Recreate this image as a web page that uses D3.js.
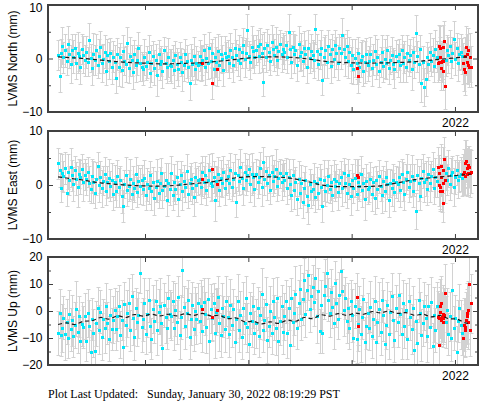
<!DOCTYPE html>
<html><head><meta charset="utf-8">
<script src="https://cdn.jsdelivr.net/npm/d3@7"></script>
<style>body{margin:0;background:#fff}svg{display:block}</style>
</head><body><svg id="c" width="481" height="404"></svg>
<script>
// Observation epochs (day number counted from 2018-01-01)
const days = [
58,63,67,72,77,83,88,92,97,103,108,112,117,122,128,133,137,142,147,153,
158,162,167,173,178,182,187,193,198,202,207,212,218,223,227,232,238,243,247,252,
258,263,267,272,278,283,287,292,298,303,307,312,318,322,327,333,338,342,347,353,
358,362,367,373,378,383,387,392,398,403,407,413,418,422,427,433,438,442,447,452,
458,463,467,472,478,483,488,492,497,503,508,512,517,523,527,532,538,543,547,552,
558,562,567,573,578,582,588,593,597,603,608,612,617,622,628,633,637,642,648,653,
658,662,667,672,678,683,687,693,698,702,707,713,718,722,727,733,738,742,747,752,
758,763,767,772,778,782,787,793,798,802,808,813,817,822,828,833,837,842,848,853,
858,862,868,873,877,882,888,893,897,902,908,913,917,923,928,932,937,943,948,952,
958,963,967,972,978,983,987,992,998,1003,1007,1012,1018,1023,1027,1032,1038,1042,1047,1052,
1058,1062,1067,1073,1078,1082,1087,1093,1097,1102,1108,1113,1117,1122,1128,1132,1137,1143,1147,1152,
1158,1162,1167,1172,1178,1183,1187,1192,1198,1203,1207,1212,1218,1222,1227,1233,1238,1242,1247,1253,
1258,1262,1267,1273,1278,1282,1287,1293,1297,1302,1308,1312,1317,1322,1328,1333,1337,1342,1348,1352,
1358,1362,1367,1372,1378,1383,1387,1392,1397,1428,1432,1437,1442,1447,1452,1457,1462,1467,1472,1477,
1482,1486];

const north = [
0.6,-3.2,1.0,2.4,0.2,1.5,-0.5,2.8,0.9,-1.0,1.6,0.3,2.0,-0.8,1.1,0.4,-1.5,1.8,0.7,-0.3,
1.2,-0.6,3.4,0.1,-1.8,0.9,-0.2,1.6,-1.2,0.5,2.2,-0.9,0.0,1.3,-2.4,0.6,-0.4,1.0,-1.6,0.3,
-0.7,-3.6,0.8,-1.5,0.2,-2.2,1.4,-0.5,-1.0,2.9,-1.8,0.4,-0.3,-2.6,0.9,-1.2,-0.2,1.9,-0.8,-1.5,
-2.0,0.3,-1.4,-0.6,1.2,-2.8,-0.9,0.5,-1.7,-0.2,-3.1,0.8,-1.1,-0.4,-2.3,1.5,-0.8,-1.6,0.2,-1.2,
-1.4,-0.3,-2.1,0.6,-1.0,-1.9,0.2,-0.7,-2.5,-1.2,0.9,-0.5,-1.6,-4.5,-0.2,-1.1,0.4,-2.0,-0.8,-1.3,
0.5,-1.0,-0.2,1.6,-1.5,0.1,-0.8,2.0,-0.4,1.1,-1.9,0.3,-0.6,1.4,-1.2,0.8,-0.1,-2.2,1.0,0.2,
0.4,-0.8,1.5,0.2,-1.3,2.0,0.7,-0.3,1.8,-0.9,1.2,2.6,0.0,1.0,5.3,0.5,-0.6,2.2,1.4,0.3,
1.5,2.3,0.4,2.8,1.0,-4.4,1.9,0.2,2.6,1.2,-0.5,3.0,1.7,0.6,2.1,-0.2,1.4,2.7,0.8,1.8,
1.2,2.5,0.3,5.0,1.8,-0.6,2.2,0.9,1.6,-1.2,2.8,0.5,1.3,-0.4,2.0,0.8,-1.5,1.9,0.1,1.4,
0.6,-0.3,5.5,1.4,-1.0,0.8,2.0,-4.0,0.2,1.5,-0.6,2.3,0.9,-1.4,1.7,0.0,2.6,1.1,-0.8,1.9,
1.0,4.4,1.8,0.3,2.4,-0.5,1.3,-1.2,0.6,-2.0,0.1,-0.9,1.0,-1.6,-0.2,0.4,-2.4,-0.7,0.8,-1.3,
-0.5,0.9,-1.8,-0.2,1.4,-1.1,0.3,-2.3,-0.6,1.2,-1.4,0.0,-0.9,1.6,-1.7,-0.3,0.7,-1.0,-2.0,0.4,
-0.4,0.8,-1.2,1.5,-0.8,0.2,-1.6,1.0,-0.3,0.6,-2.0,1.3,-0.6,4.8,0.4,-1.1,1.7,-4.6,-0.7,-5.3,
-3.8,0.2,-1.0,1.2,-0.5,0.7,-1.4,1.8,0.3,-0.2,1.5,0.6,2.4,-0.4,1.1,3.6,0.0,1.9,-0.9,0.8,
1.3,0.5];

const east = [
4.0,2.8,-0.5,2.3,1.6,3.1,-1.4,2.5,0.9,3.3,1.8,0.2,2.7,1.2,-0.3,2.1,1.5,3.0,0.6,1.9,
1.1,2.4,0.3,-0.8,1.7,0.5,-1.5,1.2,3.6,0.0,1.5,-0.6,0.8,2.0,-1.1,0.6,1.3,-0.2,0.9,-1.7,
0.5,-1.2,1.6,-0.4,0.9,-2.0,-3.9,0.2,1.8,-0.9,-0.1,1.2,-1.6,0.4,-0.6,2.0,-1.3,0.7,-0.2,1.0,
-0.8,1.3,-1.9,0.1,-0.5,1.9,-1.2,0.6,-2.4,-0.3,0.8,-1.5,0.3,2.2,-1.0,-0.2,1.0,-2.8,0.4,-0.7,
2.2,-1.9,0.5,-0.8,1.4,-2.5,0.1,1.8,-1.1,0.7,-0.3,2.6,-1.6,0.3,1.1,-0.6,-2.2,1.5,0.0,0.9,
1.2,-0.4,2.5,0.6,1.8,-1.0,0.9,2.8,0.3,-0.1,1.5,-2.8,0.7,2.1,-0.9,1.3,0.4,2.4,-0.5,1.0,
1.6,0.4,2.7,-0.3,1.1,2.2,-3.1,1.9,0.8,3.4,1.3,-0.6,2.5,0.9,1.8,3.0,0.2,2.0,1.4,-0.8,
2.1,0.6,1.5,3.2,-0.4,4.3,1.2,2.6,0.3,1.9,-1.0,2.4,0.8,1.6,3.0,-0.2,1.3,2.2,0.5,1.7,
1.0,2.3,-0.5,1.5,0.2,-1.8,1.9,-0.9,0.6,-2.6,1.2,-1.4,0.3,-3.2,-0.6,0.9,-2.0,-3.7,0.1,-1.1,
-0.8,0.7,-2.2,0.3,-1.5,1.2,-0.4,-3.9,0.9,-1.1,0.0,1.6,-0.7,0.5,-1.9,1.1,-0.2,0.8,-1.3,0.4,
1.5,-0.6,2.2,0.4,-1.4,1.8,0.1,-2.1,0.9,-0.5,1.3,-1.7,0.6,-0.2,2.0,-1.0,0.3,-2.5,0.8,-0.7,
-0.3,1.2,-1.6,0.5,-2.4,0.9,-0.8,1.6,-0.1,-1.9,0.7,-1.1,1.4,0.2,-2.8,0.4,-0.6,1.0,-1.3,0.6,
0.2,1.5,-0.9,2.1,0.6,-1.6,1.1,2.4,-0.3,0.8,1.7,-1.2,0.9,-4.8,1.9,0.3,-2.0,1.3,2.6,0.5,
1.2,-0.8,2.0,0.4,1.6,2.9,-0.5,1.4,0.7,2.2,1.0,3.1,0.2,1.8,2.5,-0.3,1.5,2.8,0.9,1.7,
2.0,1.3];

const up = [
-8.2,-0.8,-9.0,-6.3,-2.5,-8.5,-4.0,-10.1,-1.2,-6.8,-3.5,-9.4,-5.2,0.8,-7.6,-2.0,-11.2,-4.8,-6.0,-1.8,
-11.0,-0.7,-5.5,-15.0,-3.0,-8.2,-14.8,-4.6,1.2,-7.0,-0.3,-9.5,-2.8,-6.2,2.0,-4.4,-10.3,-1.5,-6.8,-3.2,
0.2,-6.5,-1.8,1.7,-8.8,-3.4,-13.5,2.6,-5.0,-0.9,3.0,-7.2,5.4,-2.6,-9.6,1.0,-4.1,-1.5,14.0,-6.0,
-3.0,2.8,-8.4,-1.0,4.2,-5.6,-10.2,0.6,-3.8,3.6,-7.0,-0.2,1.8,-4.6,-13.7,2.2,-2.4,-6.4,5.0,-1.2,
-1.8,3.6,-6.2,0.4,-4.0,5.2,-8.8,-2.2,15.3,1.5,-5.4,-0.6,4.0,-9.6,-3.0,2.4,-6.8,0.0,-2.8,3.0,
-3.6,1.8,-7.4,3.4,-1.0,-5.8,4.6,-11.0,0.8,-2.6,2.8,-8.0,-0.4,5.2,-4.4,-9.0,1.2,-2.0,-6.6,3.8,
-2.2,-8.6,2.4,-5.2,0.6,-11.4,-3.0,3.6,-7.2,-1.4,-9.8,1.2,-4.6,4.8,-6.0,-12.4,-0.8,-3.8,2.0,-8.0,
-4.6,1.0,-9.4,-1.6,6.3,-7.0,-3.2,2.6,-10.6,-5.4,0.0,-8.2,3.6,-2.4,-6.4,5.0,-11.0,-3.6,1.8,-7.6,
-2.0,3.6,-8.0,1.0,-12.6,4.8,-4.0,-0.6,6.4,-6.2,2.8,8.0,-3.0,4.6,11.5,-1.2,7.8,13.3,0.8,5.6,
9.0,3.4,12.2,-2.0,7.4,-7.4,2.2,-8.0,5.8,9.3,14.0,4.2,-0.6,7.0,1.4,-4.6,10.4,3.0,-2.8,6.0,
14.8,7.4,0.2,4.8,-3.6,1.1,-6.2,3.8,-1.6,-10.0,2.0,-10.4,-4.8,0.6,-8.4,-2.2,4.4,-11.6,-5.4,-0.8,
-6.4,1.6,-9.2,-2.8,3.8,-11.6,-4.2,0.6,-7.8,4.2,-1.6,-12.2,-5.0,2.4,-8.6,-0.4,5.4,-3.4,-10.8,1.0,
-4.0,5.9,-1.2,-8.4,2.8,-5.6,0.4,-10.2,3.6,-2.4,-6.8,1.2,-14.4,-3.8,-12.0,4.2,-0.6,-8.8,-4.4,2.0,
-2.6,-9.4,1.8,-5.8,3.4,-12.8,-1.4,-7.0,2.0,-4.2,0.4,-8.6,-2.0,-10.0,7.8,-6.3,-2.6,-15.0,-3.6,1.2,
-5.0,-8.0];

// horizontal (N, E) and vertical (Up) 1-sigma error bars, mm
const errH = [
2.8,3.1,2.6,3.4,2.9,3.0,2.5,3.3,2.7,3.6,2.9,3.1,2.6,3.0,3.8,2.7,3.2,2.8,3.5,2.9,
3.0,2.7,3.3,2.6,3.1,3.9,2.8,3.0,2.5,3.2,2.9,3.4,2.7,3.1,2.6,3.0,3.5,2.8,3.2,2.9,
3.2,2.8,3.0,3.6,2.7,3.1,2.9,2.6,3.3,3.0,2.8,3.7,2.9,3.1,2.6,3.2,2.8,3.0,3.4,2.7,
2.9,3.3,2.7,3.0,3.1,2.6,3.5,2.8,3.2,2.9,4.0,2.7,3.0,2.8,3.3,2.6,3.1,2.9,3.6,3.0,
3.1,2.8,3.4,2.7,3.0,3.2,2.9,2.6,3.5,3.0,2.8,3.1,2.7,3.3,3.0,2.9,3.6,2.8,3.1,2.7,
2.9,3.2,2.8,3.0,3.5,2.7,3.1,2.9,3.3,2.6,3.0,3.8,2.8,3.1,2.9,3.4,2.7,3.0,3.2,2.8,
3.0,2.9,3.3,2.7,3.1,3.6,2.8,3.0,2.6,3.2,2.9,3.1,3.4,2.8,3.0,2.7,3.3,3.9,2.9,3.1,
2.8,3.0,3.2,2.9,3.5,2.7,3.1,2.8,3.0,3.4,2.6,3.2,2.9,3.0,3.7,2.8,3.1,2.7,3.3,2.9,
3.1,2.7,3.0,3.3,2.8,3.1,2.9,3.6,2.7,3.0,3.2,2.8,3.4,2.9,3.1,2.6,3.0,3.5,2.8,3.2,
2.9,3.4,2.8,3.1,3.0,2.7,3.3,2.9,3.8,2.8,3.1,3.0,2.7,3.2,2.9,3.5,2.8,3.0,3.3,2.6,
3.0,3.2,2.8,3.5,2.9,3.1,2.7,3.4,3.0,2.8,3.6,2.9,3.1,2.7,3.3,3.0,2.8,3.9,3.1,2.9,
2.8,3.1,3.3,2.9,3.0,2.7,3.4,3.1,2.8,3.2,2.9,3.7,3.0,2.8,3.1,2.6,3.3,2.9,3.5,3.0,
3.1,2.9,3.2,2.8,3.6,3.0,2.7,3.3,2.9,3.1,3.8,2.8,3.0,3.4,2.9,3.2,2.7,3.5,3.1,3.6,
3.3,2.9,3.1,3.5,2.8,3.2,3.0,3.6,2.9,3.1,2.8,3.4,3.0,3.2,2.9,3.5,3.1,2.8,3.3,3.0,
3.2,3.4];

const errU = [
8.2,9.1,7.6,8.8,7.9,9.6,8.4,7.2,8.9,8.0,9.3,7.7,8.5,10.2,8.1,7.5,9.0,8.3,7.8,8.6,
7.4,8.8,9.5,8.1,7.7,8.9,10.4,8.2,7.6,9.1,8.0,8.7,7.3,9.4,8.5,7.9,8.3,9.8,7.8,8.6,
8.5,7.8,9.2,8.0,8.7,7.5,9.9,8.3,7.9,8.8,9.4,7.6,8.2,10.0,8.6,7.7,9.0,8.4,7.4,9.3,
8.0,9.3,7.7,8.6,8.2,9.7,7.5,8.9,8.1,7.8,9.2,8.4,10.3,7.9,8.7,8.0,9.5,7.6,8.3,8.8,
9.0,7.6,8.4,9.8,8.1,7.7,8.9,8.3,10.1,7.8,8.6,9.2,7.5,8.0,9.6,8.2,7.9,8.8,9.3,7.4,
8.3,9.5,7.9,8.7,8.0,9.9,7.6,8.5,9.1,8.2,7.7,9.4,8.6,7.8,10.5,8.1,9.0,7.5,8.4,9.2,
7.8,8.6,9.3,8.0,7.5,9.0,8.4,10.2,7.9,8.7,8.1,9.6,7.6,8.3,9.1,8.8,7.7,9.4,8.2,8.0,
9.1,8.0,7.7,8.9,9.5,8.3,7.6,10.0,8.5,8.1,9.3,7.8,8.7,8.2,9.8,7.5,8.6,9.0,7.9,8.4,
8.6,7.9,9.4,8.2,8.8,7.6,9.1,8.4,10.3,7.8,8.5,9.0,7.7,9.6,8.1,8.3,7.5,9.2,8.7,8.0,
8.2,9.0,7.8,9.7,8.4,8.0,9.3,7.6,8.8,10.1,8.3,7.9,9.1,8.6,7.7,9.5,8.1,8.9,7.5,8.5,
8.9,8.1,9.6,7.7,8.4,9.2,8.0,7.6,9.9,8.5,8.2,9.0,7.8,8.7,10.4,8.3,7.9,9.3,8.6,7.5,
8.0,9.4,8.3,7.6,9.1,8.7,7.8,10.0,8.4,8.1,9.5,7.7,8.9,8.2,9.2,7.9,8.6,9.8,8.0,8.5,
9.2,8.1,7.8,9.5,8.6,8.0,9.9,7.6,8.7,8.3,9.3,7.9,10.6,8.4,9.0,8.2,7.7,9.6,8.5,8.9,
8.7,9.4,8.2,7.9,9.1,8.5,10.2,8.0,8.8,9.6,8.3,7.8,9.2,8.6,9.9,8.1,8.4,9.3,7.7,8.9,
9.0,8.4];

// flagged (red) epochs
const redDays  = [567,602,620,1116,1119,
  1401,1403,1404,1408,1409,1410,1412,1415,1417,1418,1420,1422,1425,
  1490,1493,1495,1496,1499,1502,1503,1506,1508,1512,1513,1517];
const redNorth = [-0.85,-4.6,-2.0,-1.7,-3.2,
  -0.8,2.3,-0.7,1.9,0.3,-0.6,-1.8,-0.5,-2.3,2.1,-0.4,3.2,-5.1,
  -0.9,-2.0,0.5,-2.5,2.2,0.8,-0.6,-1.2,1.5,-1.5,0.2,-1.5];
const redEast  = [1.1,3.0,0.2,1.85,1.5,
  3.4,0.0,2.2,-0.3,-1.1,1.5,3.6,-1.2,0.3,2.8,-3.4,4.9,1.0,
  2.0,2.5,1.7,4.0,4.4,3.1,2.0,3.7,2.3,3.4,2.2,2.5];
const redUp    = [0.7,-2.2,0.4,5.2,-5.4,
  -2.1,-12.6,-2.7,1.9,-0.5,-3.3,2.8,-2.1,-2.7,-1.0,-4.0,-1.5,6.5,
  -10.1,-5.0,-6.0,-7.0,-3.3,-0.9,-1.9,0.4,-4.0,9.9,-7.0,2.8];
const redErrH  = [3.1,2.9,3.2,3.0,3.3,
  3.6,3.9,3.4,4.1,3.7,3.5,4.0,3.8,3.6,4.2,3.5,3.9,4.4,
  3.8,4.1,3.6,4.3,3.9,3.7,4.0,3.5,4.2,3.8,4.5,3.9];
const redErrU  = [8.4,9.0,8.1,8.8,9.3,
  9.6,10.5,9.2,10.0,9.4,9.8,10.3,9.1,9.7,10.6,9.5,10.1,11.0,
  10.4,9.8,10.9,9.6,10.2,11.3,9.9,10.7,10.0,11.1,9.5,10.8];

// model (dashed) curves
const trendDays = [58,88,118,148,178,208,238,268,298,328,358,388,418,448,478,508,538,568,598,628,
  658,688,718,748,778,808,838,868,898,928,958,988,1018,1048,1078,1108,1138,1168,1198,1228,
  1258,1288,1318,1348,1378,1408,1438,1468,1498,1517];
const trendNorth = [0.3,0.2,0.1,0.0,-0.15,-0.3,-0.45,-0.6,-0.7,-0.8,-0.85,-0.95,-1.0,-1.0,-0.95,-0.9,-0.85,-0.8,-0.65,-0.5,
  -0.35,-0.15,0.05,0.15,0.25,0.3,0.3,0.25,0.15,0.0,-0.2,-0.45,-0.6,-0.7,-0.78,-0.82,-0.85,-0.85,-0.82,-0.8,
  -0.75,-0.7,-0.6,-0.45,-0.3,-0.15,0.0,0.15,0.3,0.35];
const trendEast = [1.5,1.3,1.1,0.9,0.6,0.4,0.25,0.1,0.0,-0.1,-0.15,-0.2,-0.2,-0.15,-0.05,0.1,0.25,0.4,0.55,0.8,
  1.1,1.35,1.5,1.55,1.55,1.5,1.45,1.35,1.1,0.8,0.4,0.0,-0.2,-0.3,-0.3,-0.3,-0.3,-0.25,-0.15,0.1,
  0.4,0.7,1.0,1.2,1.35,1.5,1.65,1.8,1.95,2.0];
const trendUp = [-5.0,-4.4,-5.0,-3.8,-3.6,-2.4,-3.0,-1.8,-2.4,-1.3,-1.9,-1.2,-1.8,-1.2,-1.8,-1.0,-1.6,-0.9,-1.8,-1.6,
  -2.8,-2.6,-4.0,-3.8,-4.8,-4.0,-4.6,-3.4,-3.8,-2.4,-2.8,-1.4,-1.9,-1.0,-1.6,-0.8,-1.2,-0.2,-0.7,0.0,
  -0.9,-0.6,-1.6,-1.2,-2.2,-1.6,-2.8,-3.0,-4.4,-4.8];

const yearTicks = [2019, 2020, 2021, 2022];
const labeledYear = 2022;

const panelDefs = [
  {label:"LVMS North (mm)", vals:north, rv:redNorth, err:errH, rerr:redErrH, trend:trendNorth,
   top:5, bottom:112, dom:[-10,10], major:[-10,0,10], minor:[-5,5]},
  {label:"LVMS East (mm)", vals:east, rv:redEast, err:errH, rerr:redErrH, trend:trendEast,
   top:131, bottom:239, dom:[-10,10], major:[-10,0,10], minor:[-5,5]},
  {label:"LVMS Up (mm)", vals:up, rv:redUp, err:errU, rerr:redErrU, trend:trendUp,
   top:257, bottom:365, dom:[-20,20], major:[-20,-10,0,10,20], minor:[-15,-5,5,15]}
];

const svg = d3.select("#c");
const L = 48, R = 478;
const toYear = d => 2018 + d / 365.25;
const x = d3.scaleLinear().domain([2018.061, 2022.223]).range([L, R]);
const fmt = d3.format("d");

panelDefs.forEach((p, pi) => {
  const y = d3.scaleLinear().domain(p.dom).range([p.bottom, p.top]);
  const g = svg.append("g");
  const cid = "clip" + pi;
  svg.append("clipPath").attr("id", cid).append("rect")
    .attr("x", L).attr("y", p.top).attr("width", R - L).attr("height", p.bottom - p.top);
  const data = g.append("g").attr("clip-path", `url(#${cid})`);

  const n = Math.min(days.length, p.vals.length, p.err.length);
  const pts = d3.range(n).map(i => ({t: toYear(days[i]), v: p.vals[i], e: p.err[i]}));
  const rpts = redDays.map((d, i) => ({t: toYear(d), v: p.rv[i], e: p.rerr[i]}));
  const all = pts.concat(rpts);

  // error bars
  const eb = data.append("g").attr("stroke", "#d2d2d2").attr("stroke-width", 1).attr("fill", "none");
  eb.selectAll("path").data(all).join("path")
    .attr("d", d => {
      const xx = Math.round(x(d.t)) + 0.5;
      const y1 = Math.round(y(d.v + d.e)) + 0.5, y2 = Math.round(y(d.v - d.e)) + 0.5;
      return `M${xx},${y1}V${y2}M${xx-2},${y1}H${xx+2}M${xx-2},${y2}H${xx+2}`;
    });

  // cyan points
  data.append("g").selectAll("rect").data(pts).join("rect")
    .attr("x", d => Math.round(x(d.t)) - 1).attr("y", d => Math.round(y(d.v)) - 1)
    .attr("width", 3).attr("height", 3).attr("fill", "#00e8fa");

  // red points
  data.append("g").selectAll("rect").data(rpts).join("rect")
    .attr("x", d => Math.round(x(d.t)) - 1).attr("y", d => Math.round(y(d.v)) - 1)
    .attr("width", 3).attr("height", 3).attr("fill", "#ff0000");

  // model line
  const line = d3.line().x(d => x(toYear(d[0]))).y(d => y(d[1])).curve(d3.curveCatmullRom);
  data.append("path").datum(trendDays.map((d, i) => [d, p.trend[i]]))
    .attr("d", line).attr("fill", "none").attr("stroke", "#1a1a1a")
    .attr("stroke-width", 1.2).attr("stroke-dasharray", "4,3");

  // y axes (left labeled, right mirrored)
  const yl = g.append("g").attr("transform", `translate(${L},0)`)
    .call(d3.axisLeft(y).tickValues(p.major).tickSize(-5).tickPadding(5.5).tickFormat(fmt));
  const ylm = g.append("g").attr("transform", `translate(${L},0)`)
    .call(d3.axisLeft(y).tickValues(p.minor).tickSize(-3).tickFormat(""));
  const yr = g.append("g").attr("transform", `translate(${R},0)`)
    .call(d3.axisRight(y).tickValues(p.major).tickSize(-5).tickFormat(""));
  const yrm = g.append("g").attr("transform", `translate(${R},0)`)
    .call(d3.axisRight(y).tickValues(p.minor).tickSize(-3).tickFormat(""));
  // x axes
  const xb = g.append("g").attr("transform", `translate(0,${p.bottom})`)
    .call(d3.axisBottom(x).tickValues(yearTicks).tickSize(-5).tickPadding(6)
      .tickFormat(v => v === labeledYear ? String(v) : ""));
  const xt = g.append("g").attr("transform", `translate(0,${p.top})`)
    .call(d3.axisTop(x).tickValues(yearTicks).tickSize(-5).tickFormat(""));

  [yl, ylm, yr, yrm, xb, xt].forEach(a => {
    a.select(".domain").remove();
    a.selectAll("line").attr("stroke", "#404040").attr("stroke-width", 1);
    a.selectAll("text").attr("fill", "#000")
      .style("font-family", "'Liberation Sans', Arial, Helvetica, sans-serif").style("font-size", "12px");
  });
  // keep the topmost label fully inside the page
  yl.selectAll(".tick text").filter(v => y(v) < 8).attr("dy", "0.5em");

  // frame
  g.append("rect").attr("x", L).attr("y", p.top).attr("width", R - L).attr("height", p.bottom - p.top)
    .attr("fill", "none").attr("stroke", "#404040").attr("stroke-width", 2);

  // y label
  g.append("text")
    .attr("transform", `translate(16.5,${(p.top + p.bottom) / 2}) rotate(-90)`)
    .attr("text-anchor", "middle")
    .style("font-family", "'Liberation Sans', Arial, Helvetica, sans-serif").style("font-size", "12px")
    .text(p.label);
});

svg.append("text").attr("x", 48).attr("y", 398)
  .style("font-family", "'Liberation Serif', 'Times New Roman', serif").style("font-size", "12px")
  .style("white-space", "pre")
  .text("Plot Last Updated:   Sunday, January 30, 2022 08:19:29 PST");
</script></body></html>
